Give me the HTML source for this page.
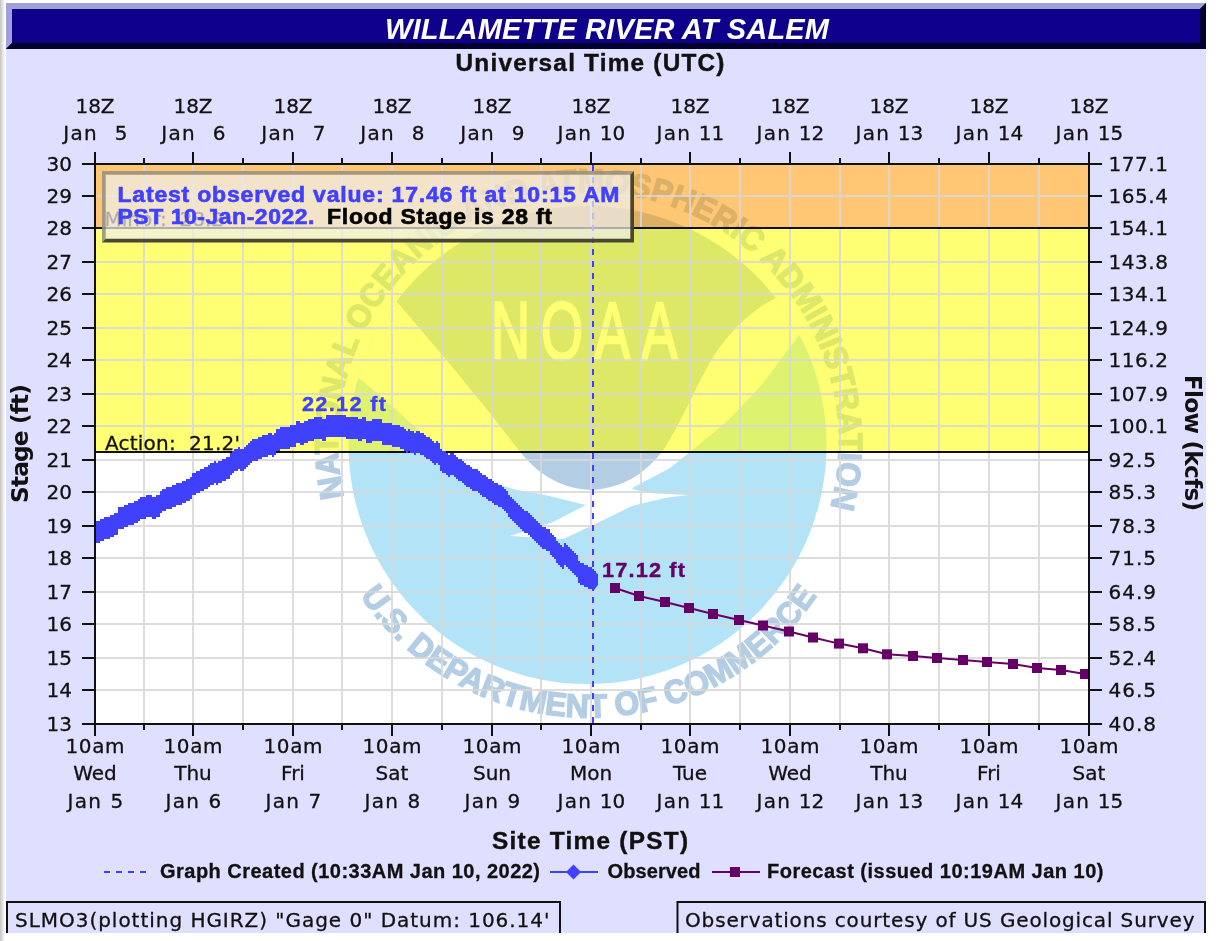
<!DOCTYPE html>
<html lang="en"><head><meta charset="utf-8"><title>WILLAMETTE RIVER AT SALEM</title>
<style>html,body{margin:0;padding:0;background:#fff;overflow:hidden}svg{display:block}text{white-space:pre}</style>
</head><body>
<svg width="1218" height="941" viewBox="0 0 1218 941">
<defs>
<linearGradient id="edge" x1="0" x2="1" y1="0" y2="0"><stop offset="0" stop-color="#c4c4c4"/><stop offset="1" stop-color="#ffffff"/></linearGradient>
<clipPath id="plotclip"><rect x="96" y="165" width="992" height="558"/></clipPath>
<clipPath id="emblem"><circle cx="587.5" cy="445" r="239"/></clipPath>
<path id="arcTop" d="M 344.0,497.1 A 250.5,250.5 0 1 1 830.7,506.5"/>
<path id="arcBot" d="M 360.0,595.5 A 275,275 0 0 0 817.0,595.5"/>
<marker id="dia" markerWidth="24" markerHeight="24" refX="12" refY="12" markerUnits="userSpaceOnUse"><path d="M12,0.5 L23.5,12 L12,23.5 L0.5,12 Z" fill="#4040ff"/></marker>
<marker id="sq" markerWidth="12" markerHeight="12" refX="6" refY="6" markerUnits="userSpaceOnUse"><rect x="1" y="1" width="10" height="10" fill="#660066"/></marker>
</defs>
<rect x="0" y="0" width="1218" height="941" fill="#ffffff"/>
<rect x="0" y="0" width="5" height="941" fill="url(#edge)"/>
<rect x="6" y="3" width="1200" height="930" fill="#dfdfff"/>
<g>
<rect x="6" y="3" width="1200" height="46" fill="#0f008b"/>
<path d="M6,3 H1206 L1200,9 H12 V43 L6,49 Z" fill="#a0a0dc"/>
<path d="M1206,3 V49 H6 L12,43 H1200 V9 Z" fill="#04002e"/>
</g>
<text x="607" y="38.5" font-family='"Liberation Sans", "DejaVu Sans", sans-serif' font-size="29" font-weight="bold" fill="#ffffff" text-anchor="middle" textLength="444" lengthAdjust="spacing" style="font-style:italic" xml:space="preserve">WILLAMETTE RIVER AT SALEM</text>
<text transform="translate(455.5,70.5) scale(1.06,1)" x="0" y="0" font-family='"Liberation Sans", "DejaVu Sans", sans-serif' font-size="23" font-weight="bold" fill="#111" text-anchor="start" textLength="253.77" lengthAdjust="spacing" stroke="#111" stroke-width="0.4" xml:space="preserve">Universal Time (UTC)</text>
<rect x="95" y="164" width="994" height="560" fill="#ffffff"/>
<g clip-path="url(#plotclip)">
<g clip-path="url(#emblem)">
<circle cx="587.5" cy="445" r="240" fill="#b3e3f6"/>
<path d="M 335,362 C 380,390 410,425 443,452 S 500,488 541,494 L 586,505 L 553,522 L 510,536 L 563,539 Q 592,526 632,506 L 665,498 L 688,495 L 648,493 L 632,489 L 634,487 L 670,468 L 693.5,449 L 727.5,421 L 761.6,385 L 806,326 L 830,200 L 330,200 Z" fill="#ffffff"/>
<path d="M 392,296 L 392,190 L 786,190 L 786,293 C 752,307 726,335 710.5,361.6 S 680,425 664,449 C 645,475 620,489 590,490 C 566,489 541,478 520.5,452.6 L 490.7,414 L 449,363 Z" fill="#b3cde4"/>
</g>
<text transform="translate(491,358.7) scale(0.66,1)" x="0" y="0" font-family='"Liberation Sans", "DejaVu Sans", sans-serif' font-size="82" font-weight="normal" fill="#ffffff" text-anchor="start" textLength="282.58" lengthAdjust="spacing" stroke="#ffffff" stroke-width="2.4" xml:space="preserve">NOAA</text>
<text font-family='"Liberation Sans", "DejaVu Sans", sans-serif' font-size="33" font-weight="bold" fill="#b3cde4" stroke="#b3cde4" stroke-width="1.5"><textPath href="#arcTop" textLength="907" lengthAdjust="spacingAndGlyphs">NATIONAL OCEANIC AND ATMOSPHERIC ADMINISTRATION</textPath></text>
<text font-family='"Liberation Sans", "DejaVu Sans", sans-serif' font-size="33" font-weight="bold" fill="#b3cde4" stroke="#b3cde4" stroke-width="1.5"><textPath href="#arcBot" textLength="539" lengthAdjust="spacingAndGlyphs">U.S. DEPARTMENT OF COMMERCE</textPath></text>
</g>
<rect x="95" y="164" width="994" height="64" fill="rgb(255,153,0)" fill-opacity="0.55"/>
<rect x="95" y="228" width="994" height="224" fill="rgb(255,255,0)" fill-opacity="0.55"/>
<text x="104.5" y="226" font-family='"DejaVu Sans", "Liberation Sans", sans-serif' font-size="20" font-weight="normal" fill="#111" text-anchor="start" stroke="#111" stroke-width="0.3" xml:space="preserve">Minor:  28.2'</text>
<path d="M144,165 V723 M193,165 V723 M243,165 V723 M293,165 V723 M342,165 V723 M392,165 V723 M442,165 V723 M492,165 V723 M541,165 V723 M591,165 V723 M641,165 V723 M690,165 V723 M740,165 V723 M790,165 V723 M840,165 V723 M889,165 V723 M939,165 V723 M989,165 V723 M1039,165 V723 M96,690 H1088 M96,658 H1088 M96,624 H1088 M96,592 H1088 M96,558 H1088 M96,526 H1088 M96,492 H1088 M96,460 H1088 M96,426 H1088 M96,394 H1088 M96,360 H1088 M96,328 H1088 M96,294 H1088 M96,262 H1088 M96,228 H1088 M96,196 H1088" stroke="rgb(215,215,215)" stroke-opacity="0.85" stroke-width="2" fill="none"/>
<path d="M95,228 H1089 M95,452 H1089" stroke="#111" stroke-width="2" fill="none"/>
<text x="105" y="449.5" font-family='"DejaVu Sans", "Liberation Sans", sans-serif' font-size="20" font-weight="normal" fill="#111" text-anchor="start" textLength="135" lengthAdjust="spacing" stroke="#111" stroke-width="0.3" xml:space="preserve">Action:  21.2'</text>
<path d="M593,165 V723" stroke="#4040ff" stroke-width="2" stroke-dasharray="6,6" fill="none"/>
<g clip-path="url(#plotclip)">
<polygon points="94,521 96,521 96,521 98,521 98,521 100,521 100,519 102,519 102,519 104,519 104,517 106,517 106,517 108,517 108,517 110,517 110,515 112,515 112,515 114,515 114,513 116,513 116,513 118,513 118,507 120,507 120,507 122,507 122,507 124,507 124,505 126,505 126,505 128,505 128,503 130,503 130,503 132,503 132,503 134,503 134,501 136,501 136,501 138,501 138,499 140,499 140,497 142,497 142,497 144,497 144,497 146,497 146,495 148,495 148,495 150,495 150,495 152,495 152,497 154,497 154,497 156,497 156,495 158,495 158,495 160,495 160,491 162,491 162,489 164,489 164,489 166,489 166,487 168,487 168,487 170,487 170,487 172,487 172,485 174,485 174,485 176,485 176,483 178,483 178,483 180,483 180,483 182,483 182,481 184,481 184,481 186,481 186,479 188,479 188,479 190,479 190,477 192,477 192,473 194,473 194,473 196,473 196,471 198,471 198,471 200,471 200,469 202,469 202,469 204,469 204,467 206,467 206,467 208,467 208,465 210,465 210,463 212,463 212,463 214,463 214,461 216,461 216,463 218,463 218,461 220,461 220,461 222,461 222,459 224,459 224,459 226,459 226,457 228,457 228,457 230,457 230,453 232,453 232,451 234,451 234,449 236,449 236,449 238,449 238,447 240,447 240,449 242,449 242,449 244,449 244,447 246,447 246,445 248,445 248,443 250,443 250,441 252,441 252,439 254,439 254,439 256,439 256,439 258,439 258,437 260,437 260,437 262,437 262,435 264,435 264,435 266,435 266,435 268,435 268,433 270,433 270,433 272,433 272,435 274,435 274,433 276,433 276,429 278,429 278,429 280,429 280,427 282,427 282,427 284,427 284,427 286,427 286,427 288,427 288,427 290,427 290,425 292,425 292,425 294,425 294,425 296,425 296,421 298,421 298,421 300,421 300,423 302,423 302,423 304,423 304,421 306,421 306,421 308,421 308,419 310,419 310,419 312,419 312,419 314,419 314,417 316,417 316,417 318,417 318,417 320,417 320,417 322,417 322,419 324,419 324,419 326,419 326,415 328,415 328,415 330,415 330,415 332,415 332,415 334,415 334,415 336,415 336,415 338,415 338,415 340,415 340,415 342,415 342,415 344,415 344,415 346,415 346,417 348,417 348,417 350,417 350,417 352,417 352,417 354,417 354,417 356,417 356,417 358,417 358,419 360,419 360,419 362,419 362,417 364,417 364,417 366,417 366,421 368,421 368,421 370,421 370,421 372,421 372,419 374,419 374,419 376,419 376,419 378,419 378,419 380,419 380,419 382,419 382,423 384,423 384,423 386,423 386,423 388,423 388,423 390,423 390,423 392,423 392,425 394,425 394,425 396,425 396,425 398,425 398,425 400,425 400,427 402,427 402,427 404,427 404,429 406,429 406,431 408,431 408,429 410,429 410,431 412,431 412,431 414,431 414,433 416,433 416,431 418,431 418,431 420,431 420,433 422,433 422,433 424,433 424,435 426,435 426,437 428,437 428,437 430,437 430,439 432,439 432,441 434,441 434,443 436,443 436,441 438,441 438,443 440,443 440,449 442,449 442,451 444,451 444,451 446,451 446,453 448,453 448,455 450,455 450,453 452,453 452,453 454,453 454,455 456,455 456,457 458,457 458,459 460,459 460,459 462,459 462,461 464,461 464,463 466,463 466,465 468,465 468,465 470,465 470,467 472,467 472,469 474,469 474,469 476,469 476,469 478,469 478,471 480,471 480,473 482,473 482,475 484,475 484,475 486,475 486,477 488,477 488,479 490,479 490,479 492,479 492,481 494,481 494,483 496,483 496,483 498,483 498,485 500,485 500,485 502,485 502,487 504,487 504,489 506,489 506,491 508,491 508,495 510,495 510,497 512,497 512,499 514,499 514,501 516,501 516,503 518,503 518,505 520,505 520,507 522,507 522,509 524,509 524,511 526,511 526,511 528,511 528,513 530,513 530,515 532,515 532,517 534,517 534,519 536,519 536,521 538,521 538,523 540,523 540,525 542,525 542,527 544,527 544,527 546,527 546,529 548,529 548,529 550,529 550,533 552,533 552,535 554,535 554,537 556,537 556,541 558,541 558,543 560,543 560,545 562,545 562,547 564,547 564,543 566,543 566,545 568,545 568,547 570,547 570,549 572,549 572,551 574,551 574,553 576,553 576,555 578,555 578,561 580,561 580,563 582,563 582,563 584,563 584,565 586,565 586,565 588,565 588,567 590,567 590,567 592,567 592,569 594,569 594,571 596,571 596,573 598,574 598,585 594,590 591,590 594,591 592,591 592,589 590,589 590,589 588,589 588,587 586,587 586,587 584,587 584,585 582,585 582,585 580,585 580,583 578,583 578,577 576,577 576,575 574,575 574,573 572,573 572,571 570,571 570,569 568,569 568,567 566,567 566,565 564,565 564,569 562,569 562,567 560,567 560,565 558,565 558,563 556,563 556,559 554,559 554,557 552,557 552,555 550,555 550,551 548,551 548,551 546,551 546,549 544,549 544,549 542,549 542,547 540,547 540,545 538,545 538,543 536,543 536,541 534,541 534,539 532,539 532,537 530,537 530,535 528,535 528,533 526,533 526,533 524,533 524,531 522,531 522,529 520,529 520,527 518,527 518,525 516,525 516,523 514,523 514,521 512,521 512,519 510,519 510,517 508,517 508,513 506,513 506,511 504,511 504,509 502,509 502,507 500,507 500,507 498,507 498,505 496,505 496,505 494,505 494,503 492,503 492,501 490,501 490,501 488,501 488,499 486,499 486,497 484,497 484,497 482,497 482,495 480,495 480,493 478,493 478,491 476,491 476,491 474,491 474,491 472,491 472,489 470,489 470,487 468,487 468,487 466,487 466,485 464,485 464,483 462,483 462,481 460,481 460,481 458,481 458,479 456,479 456,477 454,477 454,475 452,475 452,475 450,475 450,477 448,477 448,475 446,475 446,473 444,473 444,473 442,473 442,471 440,471 440,465 438,465 438,463 436,463 436,465 434,465 434,463 432,463 432,461 430,461 430,459 428,459 428,459 426,459 426,457 424,457 424,455 422,455 422,455 420,455 420,453 418,453 418,453 416,453 416,455 414,455 414,453 412,453 412,453 410,453 410,451 408,451 408,453 406,453 406,451 404,451 404,449 402,449 402,449 400,449 400,447 398,447 398,447 396,447 396,447 394,447 394,447 392,447 392,445 390,445 390,445 388,445 388,445 386,445 386,445 384,445 384,445 382,445 382,441 380,441 380,441 378,441 378,441 376,441 376,441 374,441 374,441 372,441 372,443 370,443 370,443 368,443 368,443 366,443 366,439 364,439 364,439 362,439 362,441 360,441 360,441 358,441 358,439 356,439 356,439 354,439 354,439 352,439 352,439 350,439 350,439 348,439 348,439 346,439 346,437 344,437 344,437 342,437 342,437 340,437 340,437 338,437 338,437 336,437 336,437 334,437 334,437 332,437 332,437 330,437 330,437 328,437 328,437 326,437 326,441 324,441 324,441 322,441 322,439 320,439 320,439 318,439 318,439 316,439 316,439 314,439 314,441 312,441 312,441 310,441 310,441 308,441 308,443 306,443 306,443 304,443 304,445 302,445 302,445 300,445 300,443 298,443 298,443 296,443 296,447 294,447 294,447 292,447 292,447 290,447 290,449 288,449 288,449 286,449 286,449 284,449 284,449 282,449 282,449 280,449 280,451 278,451 278,451 276,451 276,455 274,455 274,457 272,457 272,455 270,455 270,455 268,455 268,457 266,457 266,457 264,457 264,457 262,457 262,459 260,459 260,459 258,459 258,461 256,461 256,461 254,461 254,461 252,461 252,463 250,463 250,465 248,465 248,467 246,467 246,469 244,469 244,471 242,471 242,471 240,471 240,469 238,469 238,471 236,471 236,471 234,471 234,473 232,473 232,475 230,475 230,479 228,479 228,479 226,479 226,481 224,481 224,481 222,481 222,483 220,483 220,483 218,483 218,485 216,485 216,483 214,483 214,485 212,485 212,485 210,485 210,487 208,487 208,489 206,489 206,489 204,489 204,491 202,491 202,491 200,491 200,493 198,493 198,493 196,493 196,495 194,495 194,495 192,495 192,499 190,499 190,501 188,501 188,501 186,501 186,503 184,503 184,503 182,503 182,505 180,505 180,505 178,505 178,505 176,505 176,507 174,507 174,507 172,507 172,509 170,509 170,509 168,509 168,509 166,509 166,511 164,511 164,511 162,511 162,513 160,513 160,517 158,517 158,517 156,517 156,519 154,519 154,519 152,519 152,517 150,517 150,517 148,517 148,517 146,517 146,519 144,519 144,519 142,519 142,519 140,519 140,521 138,521 138,523 136,523 136,523 134,523 134,525 132,525 132,525 130,525 130,525 128,525 128,527 126,527 126,527 124,527 124,529 122,529 122,529 120,529 120,529 118,529 118,535 116,535 116,535 114,535 114,537 112,537 112,537 110,537 110,539 108,539 108,539 106,539 106,539 104,539 104,541 102,541 102,541 100,541 100,543 98,543 98,543 96,543 96,543 94,543" fill="#4040ff"/>
</g>
<text transform="translate(302,410.5) scale(1.06,1)" x="0" y="0" font-family='"Liberation Sans", "DejaVu Sans", sans-serif' font-size="20.5" font-weight="bold" fill="#4040ff" text-anchor="start" textLength="79.25" lengthAdjust="spacing" stroke="#4040ff" stroke-width="0.4" xml:space="preserve">22.12 ft</text>
<polyline points="615,588 639,596 665,602 689,608 713,614 739,620 763,625.5 789,631.5 813,637.5 839,643.6 863,648.3 887,654.3 913,656 937,658 963,660 987,662 1013,664 1037,668 1061,670 1085,674" fill="none" stroke="#660066" stroke-width="2" marker-start="url(#sq)" marker-mid="url(#sq)" marker-end="url(#sq)"/>
<text transform="translate(602,577) scale(1.06,1)" x="0" y="0" font-family='"Liberation Sans", "DejaVu Sans", sans-serif' font-size="20.5" font-weight="bold" fill="#660066" text-anchor="start" textLength="78.3" lengthAdjust="spacing" stroke="#660066" stroke-width="0.4" xml:space="preserve">17.12 ft</text>
<g>
<rect x="102" y="171" width="532" height="71.5" fill="rgb(238,238,236)" fill-opacity="0.71"/>
<path d="M102,171 H634 L630.3,174.7 H105.7 V238.8 L102,242.5 Z" fill="#6e6450" fill-opacity="0.6"/>
<path d="M634,171 V242.5 H102 L105.7,238.8 H630.3 V174.7 Z" fill="#2c2a14" fill-opacity="0.85"/>
</g>
<text transform="translate(117.5,201.5) scale(1.08,1)" x="0" y="0" font-family='"Liberation Sans", "DejaVu Sans", sans-serif' font-size="21.3" font-weight="bold" fill="#4040ff" text-anchor="start" textLength="464.81" lengthAdjust="spacing" stroke="#4040ff" stroke-width="0.6" xml:space="preserve">Latest observed value: 17.46 ft at 10:15 AM</text>
<text transform="translate(117.5,224) scale(1.08,1)" x="0" y="0" font-family='"Liberation Sans", "DejaVu Sans", sans-serif' font-size="21.3" font-weight="bold" fill="#4040ff" text-anchor="start" textLength="182.41" lengthAdjust="spacing" stroke="#4040ff" stroke-width="0.6" xml:space="preserve">PST 10-Jan-2022.</text>
<text transform="translate(327,224) scale(1.08,1)" x="0" y="0" font-family='"Liberation Sans", "DejaVu Sans", sans-serif' font-size="21.3" font-weight="bold" fill="#000" text-anchor="start" textLength="208.33" lengthAdjust="spacing" stroke="#000" stroke-width="0.6" xml:space="preserve">Flood Stage is 28 ft</text>
<path d="M95,164 H1089 V724 H95 Z" stroke="#111" stroke-width="2" fill="none"/>
<path d="M95,164 v-12 M95,724 v12 M193,164 v-12 M193,724 v12 M293,164 v-12 M293,724 v12 M392,164 v-12 M392,724 v12 M492,164 v-12 M492,724 v12 M591,164 v-12 M591,724 v12 M690,164 v-12 M690,724 v12 M790,164 v-12 M790,724 v12 M889,164 v-12 M889,724 v12 M989,164 v-12 M989,724 v12 M1089,164 v-12 M1089,724 v12 M144,164 v-6 M144,724 v6 M243,164 v-6 M243,724 v6 M342,164 v-6 M342,724 v6 M442,164 v-6 M442,724 v6 M541,164 v-6 M541,724 v6 M641,164 v-6 M641,724 v6 M740,164 v-6 M740,724 v6 M840,164 v-6 M840,724 v6 M939,164 v-6 M939,724 v6 M1039,164 v-6 M1039,724 v6 M95,724 h-13 M1089,724 h13 M95,690 h-13 M1089,690 h13 M95,658 h-13 M1089,658 h13 M95,624 h-13 M1089,624 h13 M95,592 h-13 M1089,592 h13 M95,558 h-13 M1089,558 h13 M95,526 h-13 M1089,526 h13 M95,492 h-13 M1089,492 h13 M95,460 h-13 M1089,460 h13 M95,426 h-13 M1089,426 h13 M95,394 h-13 M1089,394 h13 M95,360 h-13 M1089,360 h13 M95,328 h-13 M1089,328 h13 M95,294 h-13 M1089,294 h13 M95,262 h-13 M1089,262 h13 M95,228 h-13 M1089,228 h13 M95,196 h-13 M1089,196 h13 M95,164 h-13 M1089,164 h13" stroke="#111" stroke-width="2" fill="none"/>
<text x="72" y="171" font-family='"DejaVu Sans", "Liberation Sans", sans-serif' font-size="20" font-weight="normal" fill="#111" text-anchor="end" stroke="#111" stroke-width="0.3" xml:space="preserve">30</text>
<text x="1108.5" y="171" font-family='"DejaVu Sans", "Liberation Sans", sans-serif' font-size="20" font-weight="normal" fill="#111" text-anchor="start" textLength="59.5" lengthAdjust="spacing" stroke="#111" stroke-width="0.3" xml:space="preserve">177.1</text>
<text x="72" y="203" font-family='"DejaVu Sans", "Liberation Sans", sans-serif' font-size="20" font-weight="normal" fill="#111" text-anchor="end" stroke="#111" stroke-width="0.3" xml:space="preserve">29</text>
<text x="1108.5" y="203" font-family='"DejaVu Sans", "Liberation Sans", sans-serif' font-size="20" font-weight="normal" fill="#111" text-anchor="start" textLength="59.5" lengthAdjust="spacing" stroke="#111" stroke-width="0.3" xml:space="preserve">165.4</text>
<text x="72" y="235" font-family='"DejaVu Sans", "Liberation Sans", sans-serif' font-size="20" font-weight="normal" fill="#111" text-anchor="end" stroke="#111" stroke-width="0.3" xml:space="preserve">28</text>
<text x="1108.5" y="235" font-family='"DejaVu Sans", "Liberation Sans", sans-serif' font-size="20" font-weight="normal" fill="#111" text-anchor="start" textLength="59.5" lengthAdjust="spacing" stroke="#111" stroke-width="0.3" xml:space="preserve">154.1</text>
<text x="72" y="269" font-family='"DejaVu Sans", "Liberation Sans", sans-serif' font-size="20" font-weight="normal" fill="#111" text-anchor="end" stroke="#111" stroke-width="0.3" xml:space="preserve">27</text>
<text x="1108.5" y="269" font-family='"DejaVu Sans", "Liberation Sans", sans-serif' font-size="20" font-weight="normal" fill="#111" text-anchor="start" textLength="59.5" lengthAdjust="spacing" stroke="#111" stroke-width="0.3" xml:space="preserve">143.8</text>
<text x="72" y="301" font-family='"DejaVu Sans", "Liberation Sans", sans-serif' font-size="20" font-weight="normal" fill="#111" text-anchor="end" stroke="#111" stroke-width="0.3" xml:space="preserve">26</text>
<text x="1108.5" y="301" font-family='"DejaVu Sans", "Liberation Sans", sans-serif' font-size="20" font-weight="normal" fill="#111" text-anchor="start" textLength="59.5" lengthAdjust="spacing" stroke="#111" stroke-width="0.3" xml:space="preserve">134.1</text>
<text x="72" y="335" font-family='"DejaVu Sans", "Liberation Sans", sans-serif' font-size="20" font-weight="normal" fill="#111" text-anchor="end" stroke="#111" stroke-width="0.3" xml:space="preserve">25</text>
<text x="1108.5" y="335" font-family='"DejaVu Sans", "Liberation Sans", sans-serif' font-size="20" font-weight="normal" fill="#111" text-anchor="start" textLength="59.5" lengthAdjust="spacing" stroke="#111" stroke-width="0.3" xml:space="preserve">124.9</text>
<text x="72" y="367" font-family='"DejaVu Sans", "Liberation Sans", sans-serif' font-size="20" font-weight="normal" fill="#111" text-anchor="end" stroke="#111" stroke-width="0.3" xml:space="preserve">24</text>
<text x="1108.5" y="367" font-family='"DejaVu Sans", "Liberation Sans", sans-serif' font-size="20" font-weight="normal" fill="#111" text-anchor="start" textLength="59.5" lengthAdjust="spacing" stroke="#111" stroke-width="0.3" xml:space="preserve">116.2</text>
<text x="72" y="401" font-family='"DejaVu Sans", "Liberation Sans", sans-serif' font-size="20" font-weight="normal" fill="#111" text-anchor="end" stroke="#111" stroke-width="0.3" xml:space="preserve">23</text>
<text x="1108.5" y="401" font-family='"DejaVu Sans", "Liberation Sans", sans-serif' font-size="20" font-weight="normal" fill="#111" text-anchor="start" textLength="59.5" lengthAdjust="spacing" stroke="#111" stroke-width="0.3" xml:space="preserve">107.9</text>
<text x="72" y="433" font-family='"DejaVu Sans", "Liberation Sans", sans-serif' font-size="20" font-weight="normal" fill="#111" text-anchor="end" stroke="#111" stroke-width="0.3" xml:space="preserve">22</text>
<text x="1108.5" y="433" font-family='"DejaVu Sans", "Liberation Sans", sans-serif' font-size="20" font-weight="normal" fill="#111" text-anchor="start" textLength="59.5" lengthAdjust="spacing" stroke="#111" stroke-width="0.3" xml:space="preserve">100.1</text>
<text x="72" y="467" font-family='"DejaVu Sans", "Liberation Sans", sans-serif' font-size="20" font-weight="normal" fill="#111" text-anchor="end" stroke="#111" stroke-width="0.3" xml:space="preserve">21</text>
<text x="1108.5" y="467" font-family='"DejaVu Sans", "Liberation Sans", sans-serif' font-size="20" font-weight="normal" fill="#111" text-anchor="start" textLength="47.6" lengthAdjust="spacing" stroke="#111" stroke-width="0.3" xml:space="preserve">92.5</text>
<text x="72" y="499" font-family='"DejaVu Sans", "Liberation Sans", sans-serif' font-size="20" font-weight="normal" fill="#111" text-anchor="end" stroke="#111" stroke-width="0.3" xml:space="preserve">20</text>
<text x="1108.5" y="499" font-family='"DejaVu Sans", "Liberation Sans", sans-serif' font-size="20" font-weight="normal" fill="#111" text-anchor="start" textLength="47.6" lengthAdjust="spacing" stroke="#111" stroke-width="0.3" xml:space="preserve">85.3</text>
<text x="72" y="533" font-family='"DejaVu Sans", "Liberation Sans", sans-serif' font-size="20" font-weight="normal" fill="#111" text-anchor="end" stroke="#111" stroke-width="0.3" xml:space="preserve">19</text>
<text x="1108.5" y="533" font-family='"DejaVu Sans", "Liberation Sans", sans-serif' font-size="20" font-weight="normal" fill="#111" text-anchor="start" textLength="47.6" lengthAdjust="spacing" stroke="#111" stroke-width="0.3" xml:space="preserve">78.3</text>
<text x="72" y="565" font-family='"DejaVu Sans", "Liberation Sans", sans-serif' font-size="20" font-weight="normal" fill="#111" text-anchor="end" stroke="#111" stroke-width="0.3" xml:space="preserve">18</text>
<text x="1108.5" y="565" font-family='"DejaVu Sans", "Liberation Sans", sans-serif' font-size="20" font-weight="normal" fill="#111" text-anchor="start" textLength="47.6" lengthAdjust="spacing" stroke="#111" stroke-width="0.3" xml:space="preserve">71.5</text>
<text x="72" y="599" font-family='"DejaVu Sans", "Liberation Sans", sans-serif' font-size="20" font-weight="normal" fill="#111" text-anchor="end" stroke="#111" stroke-width="0.3" xml:space="preserve">17</text>
<text x="1108.5" y="599" font-family='"DejaVu Sans", "Liberation Sans", sans-serif' font-size="20" font-weight="normal" fill="#111" text-anchor="start" textLength="47.6" lengthAdjust="spacing" stroke="#111" stroke-width="0.3" xml:space="preserve">64.9</text>
<text x="72" y="631" font-family='"DejaVu Sans", "Liberation Sans", sans-serif' font-size="20" font-weight="normal" fill="#111" text-anchor="end" stroke="#111" stroke-width="0.3" xml:space="preserve">16</text>
<text x="1108.5" y="631" font-family='"DejaVu Sans", "Liberation Sans", sans-serif' font-size="20" font-weight="normal" fill="#111" text-anchor="start" textLength="47.6" lengthAdjust="spacing" stroke="#111" stroke-width="0.3" xml:space="preserve">58.5</text>
<text x="72" y="665" font-family='"DejaVu Sans", "Liberation Sans", sans-serif' font-size="20" font-weight="normal" fill="#111" text-anchor="end" stroke="#111" stroke-width="0.3" xml:space="preserve">15</text>
<text x="1108.5" y="665" font-family='"DejaVu Sans", "Liberation Sans", sans-serif' font-size="20" font-weight="normal" fill="#111" text-anchor="start" textLength="47.6" lengthAdjust="spacing" stroke="#111" stroke-width="0.3" xml:space="preserve">52.4</text>
<text x="72" y="697" font-family='"DejaVu Sans", "Liberation Sans", sans-serif' font-size="20" font-weight="normal" fill="#111" text-anchor="end" stroke="#111" stroke-width="0.3" xml:space="preserve">14</text>
<text x="1108.5" y="697" font-family='"DejaVu Sans", "Liberation Sans", sans-serif' font-size="20" font-weight="normal" fill="#111" text-anchor="start" textLength="47.6" lengthAdjust="spacing" stroke="#111" stroke-width="0.3" xml:space="preserve">46.5</text>
<text x="72" y="731" font-family='"DejaVu Sans", "Liberation Sans", sans-serif' font-size="20" font-weight="normal" fill="#111" text-anchor="end" stroke="#111" stroke-width="0.3" xml:space="preserve">13</text>
<text x="1108.5" y="731" font-family='"DejaVu Sans", "Liberation Sans", sans-serif' font-size="20" font-weight="normal" fill="#111" text-anchor="start" textLength="47.6" lengthAdjust="spacing" stroke="#111" stroke-width="0.3" xml:space="preserve">40.8</text>
<text x="95" y="113" font-family='"DejaVu Sans", "Liberation Sans", sans-serif' font-size="20" font-weight="normal" fill="#111" text-anchor="middle" stroke="#111" stroke-width="0.3" xml:space="preserve">18Z</text>
<text y="140.3" font-family='"DejaVu Sans", "Liberation Sans", sans-serif' font-size="20" fill="#111" stroke="#111" stroke-width="0.3"><tspan x="63.3" textLength="33.4" lengthAdjust="spacing">Jan</tspan><tspan x="127.5" text-anchor="end">5</tspan></text>
<text x="95" y="752.5" font-family='"DejaVu Sans", "Liberation Sans", sans-serif' font-size="20" font-weight="normal" fill="#111" text-anchor="middle" textLength="59" lengthAdjust="spacing" stroke="#111" stroke-width="0.3" xml:space="preserve">10am</text>
<text x="95" y="780.2" font-family='"DejaVu Sans", "Liberation Sans", sans-serif' font-size="20" font-weight="normal" fill="#111" text-anchor="middle" stroke="#111" stroke-width="0.3" xml:space="preserve">Wed</text>
<text y="808.1" font-family='"DejaVu Sans", "Liberation Sans", sans-serif' font-size="20" fill="#111" stroke="#111" stroke-width="0.3"><tspan x="67.6" textLength="33.4" lengthAdjust="spacing">Jan</tspan><tspan x="123.2" text-anchor="end">5</tspan></text>
<text x="193" y="113" font-family='"DejaVu Sans", "Liberation Sans", sans-serif' font-size="20" font-weight="normal" fill="#111" text-anchor="middle" stroke="#111" stroke-width="0.3" xml:space="preserve">18Z</text>
<text y="140.3" font-family='"DejaVu Sans", "Liberation Sans", sans-serif' font-size="20" fill="#111" stroke="#111" stroke-width="0.3"><tspan x="161.3" textLength="33.4" lengthAdjust="spacing">Jan</tspan><tspan x="225.5" text-anchor="end">6</tspan></text>
<text x="193" y="752.5" font-family='"DejaVu Sans", "Liberation Sans", sans-serif' font-size="20" font-weight="normal" fill="#111" text-anchor="middle" textLength="59" lengthAdjust="spacing" stroke="#111" stroke-width="0.3" xml:space="preserve">10am</text>
<text x="193" y="780.2" font-family='"DejaVu Sans", "Liberation Sans", sans-serif' font-size="20" font-weight="normal" fill="#111" text-anchor="middle" stroke="#111" stroke-width="0.3" xml:space="preserve">Thu</text>
<text y="808.1" font-family='"DejaVu Sans", "Liberation Sans", sans-serif' font-size="20" fill="#111" stroke="#111" stroke-width="0.3"><tspan x="165.60000000000002" textLength="33.4" lengthAdjust="spacing">Jan</tspan><tspan x="221.2" text-anchor="end">6</tspan></text>
<text x="293" y="113" font-family='"DejaVu Sans", "Liberation Sans", sans-serif' font-size="20" font-weight="normal" fill="#111" text-anchor="middle" stroke="#111" stroke-width="0.3" xml:space="preserve">18Z</text>
<text y="140.3" font-family='"DejaVu Sans", "Liberation Sans", sans-serif' font-size="20" fill="#111" stroke="#111" stroke-width="0.3"><tspan x="261.3" textLength="33.4" lengthAdjust="spacing">Jan</tspan><tspan x="325.5" text-anchor="end">7</tspan></text>
<text x="293" y="752.5" font-family='"DejaVu Sans", "Liberation Sans", sans-serif' font-size="20" font-weight="normal" fill="#111" text-anchor="middle" textLength="59" lengthAdjust="spacing" stroke="#111" stroke-width="0.3" xml:space="preserve">10am</text>
<text x="293" y="780.2" font-family='"DejaVu Sans", "Liberation Sans", sans-serif' font-size="20" font-weight="normal" fill="#111" text-anchor="middle" stroke="#111" stroke-width="0.3" xml:space="preserve">Fri</text>
<text y="808.1" font-family='"DejaVu Sans", "Liberation Sans", sans-serif' font-size="20" fill="#111" stroke="#111" stroke-width="0.3"><tspan x="265.6" textLength="33.4" lengthAdjust="spacing">Jan</tspan><tspan x="321.2" text-anchor="end">7</tspan></text>
<text x="392" y="113" font-family='"DejaVu Sans", "Liberation Sans", sans-serif' font-size="20" font-weight="normal" fill="#111" text-anchor="middle" stroke="#111" stroke-width="0.3" xml:space="preserve">18Z</text>
<text y="140.3" font-family='"DejaVu Sans", "Liberation Sans", sans-serif' font-size="20" fill="#111" stroke="#111" stroke-width="0.3"><tspan x="360.3" textLength="33.4" lengthAdjust="spacing">Jan</tspan><tspan x="424.5" text-anchor="end">8</tspan></text>
<text x="392" y="752.5" font-family='"DejaVu Sans", "Liberation Sans", sans-serif' font-size="20" font-weight="normal" fill="#111" text-anchor="middle" textLength="59" lengthAdjust="spacing" stroke="#111" stroke-width="0.3" xml:space="preserve">10am</text>
<text x="392" y="780.2" font-family='"DejaVu Sans", "Liberation Sans", sans-serif' font-size="20" font-weight="normal" fill="#111" text-anchor="middle" stroke="#111" stroke-width="0.3" xml:space="preserve">Sat</text>
<text y="808.1" font-family='"DejaVu Sans", "Liberation Sans", sans-serif' font-size="20" fill="#111" stroke="#111" stroke-width="0.3"><tspan x="364.6" textLength="33.4" lengthAdjust="spacing">Jan</tspan><tspan x="420.2" text-anchor="end">8</tspan></text>
<text x="492" y="113" font-family='"DejaVu Sans", "Liberation Sans", sans-serif' font-size="20" font-weight="normal" fill="#111" text-anchor="middle" stroke="#111" stroke-width="0.3" xml:space="preserve">18Z</text>
<text y="140.3" font-family='"DejaVu Sans", "Liberation Sans", sans-serif' font-size="20" fill="#111" stroke="#111" stroke-width="0.3"><tspan x="460.3" textLength="33.4" lengthAdjust="spacing">Jan</tspan><tspan x="524.5" text-anchor="end">9</tspan></text>
<text x="492" y="752.5" font-family='"DejaVu Sans", "Liberation Sans", sans-serif' font-size="20" font-weight="normal" fill="#111" text-anchor="middle" textLength="59" lengthAdjust="spacing" stroke="#111" stroke-width="0.3" xml:space="preserve">10am</text>
<text x="492" y="780.2" font-family='"DejaVu Sans", "Liberation Sans", sans-serif' font-size="20" font-weight="normal" fill="#111" text-anchor="middle" stroke="#111" stroke-width="0.3" xml:space="preserve">Sun</text>
<text y="808.1" font-family='"DejaVu Sans", "Liberation Sans", sans-serif' font-size="20" fill="#111" stroke="#111" stroke-width="0.3"><tspan x="464.6" textLength="33.4" lengthAdjust="spacing">Jan</tspan><tspan x="520.2" text-anchor="end">9</tspan></text>
<text x="591" y="113" font-family='"DejaVu Sans", "Liberation Sans", sans-serif' font-size="20" font-weight="normal" fill="#111" text-anchor="middle" stroke="#111" stroke-width="0.3" xml:space="preserve">18Z</text>
<text y="140.3" font-family='"DejaVu Sans", "Liberation Sans", sans-serif' font-size="20" fill="#111" stroke="#111" stroke-width="0.3"><tspan x="557.5999999999999" textLength="33.4" lengthAdjust="spacing">Jan</tspan><tspan x="625.2" text-anchor="end">10</tspan></text>
<text x="591" y="752.5" font-family='"DejaVu Sans", "Liberation Sans", sans-serif' font-size="20" font-weight="normal" fill="#111" text-anchor="middle" textLength="59" lengthAdjust="spacing" stroke="#111" stroke-width="0.3" xml:space="preserve">10am</text>
<text x="591" y="780.2" font-family='"DejaVu Sans", "Liberation Sans", sans-serif' font-size="20" font-weight="normal" fill="#111" text-anchor="middle" stroke="#111" stroke-width="0.3" xml:space="preserve">Mon</text>
<text y="808.1" font-family='"DejaVu Sans", "Liberation Sans", sans-serif' font-size="20" fill="#111" stroke="#111" stroke-width="0.3"><tspan x="557.5999999999999" textLength="33.4" lengthAdjust="spacing">Jan</tspan><tspan x="625.2" text-anchor="end">10</tspan></text>
<text x="690" y="113" font-family='"DejaVu Sans", "Liberation Sans", sans-serif' font-size="20" font-weight="normal" fill="#111" text-anchor="middle" stroke="#111" stroke-width="0.3" xml:space="preserve">18Z</text>
<text y="140.3" font-family='"DejaVu Sans", "Liberation Sans", sans-serif' font-size="20" fill="#111" stroke="#111" stroke-width="0.3"><tspan x="656.5999999999999" textLength="33.4" lengthAdjust="spacing">Jan</tspan><tspan x="724.2" text-anchor="end">11</tspan></text>
<text x="690" y="752.5" font-family='"DejaVu Sans", "Liberation Sans", sans-serif' font-size="20" font-weight="normal" fill="#111" text-anchor="middle" textLength="59" lengthAdjust="spacing" stroke="#111" stroke-width="0.3" xml:space="preserve">10am</text>
<text x="690" y="780.2" font-family='"DejaVu Sans", "Liberation Sans", sans-serif' font-size="20" font-weight="normal" fill="#111" text-anchor="middle" stroke="#111" stroke-width="0.3" xml:space="preserve">Tue</text>
<text y="808.1" font-family='"DejaVu Sans", "Liberation Sans", sans-serif' font-size="20" fill="#111" stroke="#111" stroke-width="0.3"><tspan x="656.5999999999999" textLength="33.4" lengthAdjust="spacing">Jan</tspan><tspan x="724.2" text-anchor="end">11</tspan></text>
<text x="790" y="113" font-family='"DejaVu Sans", "Liberation Sans", sans-serif' font-size="20" font-weight="normal" fill="#111" text-anchor="middle" stroke="#111" stroke-width="0.3" xml:space="preserve">18Z</text>
<text y="140.3" font-family='"DejaVu Sans", "Liberation Sans", sans-serif' font-size="20" fill="#111" stroke="#111" stroke-width="0.3"><tspan x="756.5999999999999" textLength="33.4" lengthAdjust="spacing">Jan</tspan><tspan x="824.2" text-anchor="end">12</tspan></text>
<text x="790" y="752.5" font-family='"DejaVu Sans", "Liberation Sans", sans-serif' font-size="20" font-weight="normal" fill="#111" text-anchor="middle" textLength="59" lengthAdjust="spacing" stroke="#111" stroke-width="0.3" xml:space="preserve">10am</text>
<text x="790" y="780.2" font-family='"DejaVu Sans", "Liberation Sans", sans-serif' font-size="20" font-weight="normal" fill="#111" text-anchor="middle" stroke="#111" stroke-width="0.3" xml:space="preserve">Wed</text>
<text y="808.1" font-family='"DejaVu Sans", "Liberation Sans", sans-serif' font-size="20" fill="#111" stroke="#111" stroke-width="0.3"><tspan x="756.5999999999999" textLength="33.4" lengthAdjust="spacing">Jan</tspan><tspan x="824.2" text-anchor="end">12</tspan></text>
<text x="889" y="113" font-family='"DejaVu Sans", "Liberation Sans", sans-serif' font-size="20" font-weight="normal" fill="#111" text-anchor="middle" stroke="#111" stroke-width="0.3" xml:space="preserve">18Z</text>
<text y="140.3" font-family='"DejaVu Sans", "Liberation Sans", sans-serif' font-size="20" fill="#111" stroke="#111" stroke-width="0.3"><tspan x="855.5999999999999" textLength="33.4" lengthAdjust="spacing">Jan</tspan><tspan x="923.2" text-anchor="end">13</tspan></text>
<text x="889" y="752.5" font-family='"DejaVu Sans", "Liberation Sans", sans-serif' font-size="20" font-weight="normal" fill="#111" text-anchor="middle" textLength="59" lengthAdjust="spacing" stroke="#111" stroke-width="0.3" xml:space="preserve">10am</text>
<text x="889" y="780.2" font-family='"DejaVu Sans", "Liberation Sans", sans-serif' font-size="20" font-weight="normal" fill="#111" text-anchor="middle" stroke="#111" stroke-width="0.3" xml:space="preserve">Thu</text>
<text y="808.1" font-family='"DejaVu Sans", "Liberation Sans", sans-serif' font-size="20" fill="#111" stroke="#111" stroke-width="0.3"><tspan x="855.5999999999999" textLength="33.4" lengthAdjust="spacing">Jan</tspan><tspan x="923.2" text-anchor="end">13</tspan></text>
<text x="989" y="113" font-family='"DejaVu Sans", "Liberation Sans", sans-serif' font-size="20" font-weight="normal" fill="#111" text-anchor="middle" stroke="#111" stroke-width="0.3" xml:space="preserve">18Z</text>
<text y="140.3" font-family='"DejaVu Sans", "Liberation Sans", sans-serif' font-size="20" fill="#111" stroke="#111" stroke-width="0.3"><tspan x="955.5999999999999" textLength="33.4" lengthAdjust="spacing">Jan</tspan><tspan x="1023.2" text-anchor="end">14</tspan></text>
<text x="989" y="752.5" font-family='"DejaVu Sans", "Liberation Sans", sans-serif' font-size="20" font-weight="normal" fill="#111" text-anchor="middle" textLength="59" lengthAdjust="spacing" stroke="#111" stroke-width="0.3" xml:space="preserve">10am</text>
<text x="989" y="780.2" font-family='"DejaVu Sans", "Liberation Sans", sans-serif' font-size="20" font-weight="normal" fill="#111" text-anchor="middle" stroke="#111" stroke-width="0.3" xml:space="preserve">Fri</text>
<text y="808.1" font-family='"DejaVu Sans", "Liberation Sans", sans-serif' font-size="20" fill="#111" stroke="#111" stroke-width="0.3"><tspan x="955.5999999999999" textLength="33.4" lengthAdjust="spacing">Jan</tspan><tspan x="1023.2" text-anchor="end">14</tspan></text>
<text x="1089" y="113" font-family='"DejaVu Sans", "Liberation Sans", sans-serif' font-size="20" font-weight="normal" fill="#111" text-anchor="middle" stroke="#111" stroke-width="0.3" xml:space="preserve">18Z</text>
<text y="140.3" font-family='"DejaVu Sans", "Liberation Sans", sans-serif' font-size="20" fill="#111" stroke="#111" stroke-width="0.3"><tspan x="1055.6" textLength="33.4" lengthAdjust="spacing">Jan</tspan><tspan x="1123.2" text-anchor="end">15</tspan></text>
<text x="1089" y="752.5" font-family='"DejaVu Sans", "Liberation Sans", sans-serif' font-size="20" font-weight="normal" fill="#111" text-anchor="middle" textLength="59" lengthAdjust="spacing" stroke="#111" stroke-width="0.3" xml:space="preserve">10am</text>
<text x="1089" y="780.2" font-family='"DejaVu Sans", "Liberation Sans", sans-serif' font-size="20" font-weight="normal" fill="#111" text-anchor="middle" stroke="#111" stroke-width="0.3" xml:space="preserve">Sat</text>
<text y="808.1" font-family='"DejaVu Sans", "Liberation Sans", sans-serif' font-size="20" fill="#111" stroke="#111" stroke-width="0.3"><tspan x="1055.6" textLength="33.4" lengthAdjust="spacing">Jan</tspan><tspan x="1123.2" text-anchor="end">15</tspan></text>
<text transform="translate(492,849) scale(1.06,1)" x="0" y="0" font-family='"Liberation Sans", "DejaVu Sans", sans-serif' font-size="23" font-weight="bold" fill="#111" text-anchor="start" textLength="184.91" lengthAdjust="spacing" stroke="#111" stroke-width="0.4" xml:space="preserve">Site Time (PST)</text>
<text transform="translate(27.6,443.5) rotate(-90)" font-family='"DejaVu Sans", "Liberation Sans", sans-serif' font-size="23.3" font-weight="bold" fill="#111" text-anchor="middle" textLength="119" lengthAdjust="spacing">Stage (ft)</text>
<text transform="translate(1184.6,443) rotate(90)" font-family='"DejaVu Sans", "Liberation Sans", sans-serif' font-size="23.3" font-weight="bold" fill="#111" text-anchor="middle" textLength="136.5" lengthAdjust="spacing">Flow (kcfs)</text>
<path d="M104,872 H147" stroke="#4040ff" stroke-width="2" stroke-dasharray="6,6" fill="none"/>
<text x="160" y="878" font-family='"Liberation Sans", "DejaVu Sans", sans-serif' font-size="20" font-weight="bold" fill="#111" text-anchor="start" textLength="380" lengthAdjust="spacing" stroke="#111" stroke-width="0.3" xml:space="preserve">Graph Created (10:33AM Jan 10, 2022)</text>
<path d="M550,872 H598" stroke="#4040ff" stroke-width="2" fill="none"/><path d="M573.5,864.5 L581,872 L573.5,879.5 L566,872 Z" fill="#4040ff"/>
<text x="607.5" y="878" font-family='"Liberation Sans", "DejaVu Sans", sans-serif' font-size="20" font-weight="bold" fill="#111" text-anchor="start" textLength="93" lengthAdjust="spacing" stroke="#111" stroke-width="0.3" xml:space="preserve">Observed</text>
<path d="M712,872 H760" stroke="#660066" stroke-width="2" fill="none"/><rect x="730" y="867" width="10" height="10" fill="#660066"/>
<text x="767" y="878" font-family='"Liberation Sans", "DejaVu Sans", sans-serif' font-size="20" font-weight="bold" fill="#111" text-anchor="start" textLength="336.5" lengthAdjust="spacing" stroke="#111" stroke-width="0.3" xml:space="preserve">Forecast (issued 10:19AM Jan 10)</text>
<path d="M7,933 V902 H560 V933 M677.5,933 V902 H1205 V933" stroke="#111" stroke-width="2" fill="none"/>
<text x="15" y="927.4" font-family='"DejaVu Sans", "Liberation Sans", sans-serif' font-size="20" font-weight="normal" fill="#111" text-anchor="start" textLength="534.5" lengthAdjust="spacing" stroke="#111" stroke-width="0.3" xml:space="preserve">SLMO3(plotting HGIRZ) "Gage 0" Datum: 106.14'</text>
<text x="685" y="927.4" font-family='"DejaVu Sans", "Liberation Sans", sans-serif' font-size="20" font-weight="normal" fill="#111" text-anchor="start" textLength="509.5" lengthAdjust="spacing" stroke="#111" stroke-width="0.3" xml:space="preserve">Observations courtesy of US Geological Survey</text>
</svg>
</body></html>
